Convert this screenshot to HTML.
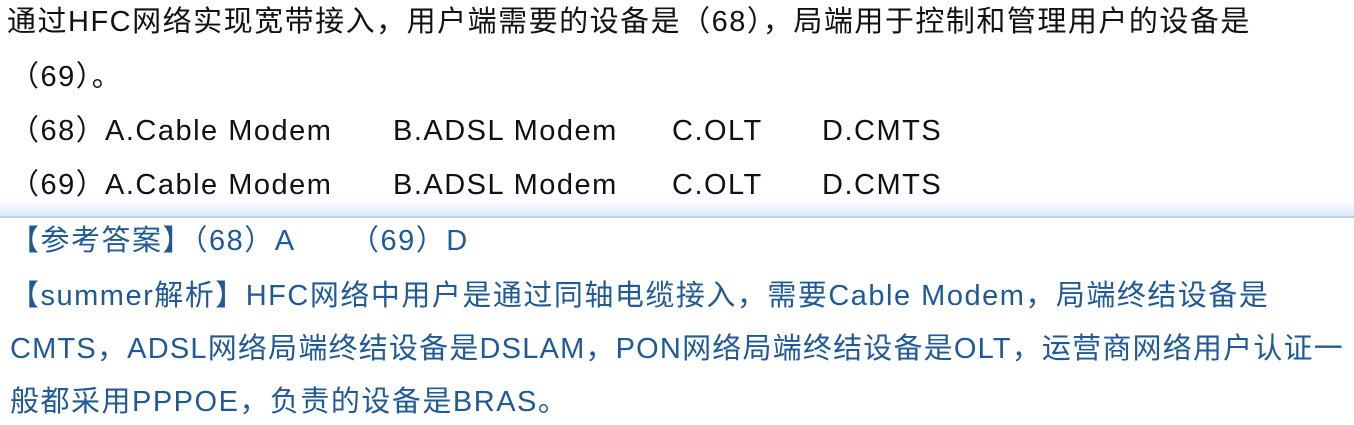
<!DOCTYPE html>
<html><head><meta charset="utf-8"><style>
body{margin:0;width:1354px;height:425px;background:#fff;position:relative;overflow:hidden;font-family:"Liberation Sans","Noto Sans CJK SC",sans-serif;font-size:29px;letter-spacing:1.5px;}
.l{position:absolute;white-space:nowrap;line-height:36px;}
.k{color:#111;}
.b{color:#1f5a96;}
.sep{position:absolute;left:0;top:198px;width:1354px;height:18px;background:linear-gradient(to bottom,rgba(255,255,255,0),rgba(200,220,245,0.6));border-bottom:2px solid #b9d2f0;}
span.t{position:absolute;}
</style></head><body>
<div class="l k" style="left:7px;top:4px;">通过HFC网络实现宽带接入，用户端需要的设备是（68），局端用于控制和管理用户的设备是</div>
<div class="l k" style="left:10px;top:59px;">（69）。</div>
<div class="l k" style="left:10px;top:113px;width:1000px;">（68）<span class="t" style="left:95px">A.Cable Modem</span><span class="t" style="left:383px">B.ADSL Modem</span><span class="t" style="left:662px">C.OLT</span><span class="t" style="left:812px">D.CMTS</span></div>
<div class="l k" style="left:10px;top:167px;width:1000px;">（69）<span class="t" style="left:95px">A.Cable Modem</span><span class="t" style="left:383px">B.ADSL Modem</span><span class="t" style="left:662px">C.OLT</span><span class="t" style="left:812px">D.CMTS</span></div>
<div class="sep"></div>
<div class="l b" style="left:10px;top:223px;width:600px;">【参考答案】（68）A<span class="t" style="left:340px">（69）D</span></div>
<div class="l b" style="left:10px;top:278px;">【summer解析】HFC网络中用户是通过同轴电缆接入，需要Cable Modem，局端终结设备是</div>
<div class="l b" style="left:10px;top:331px;letter-spacing:1.2px;">CMTS，ADSL网络局端终结设备是DSLAM，PON网络局端终结设备是OLT，运营商网络用户认证一</div>
<div class="l b" style="left:10px;top:384px;">般都采用PPPOE，负责的设备是BRAS。</div>
</body></html>
